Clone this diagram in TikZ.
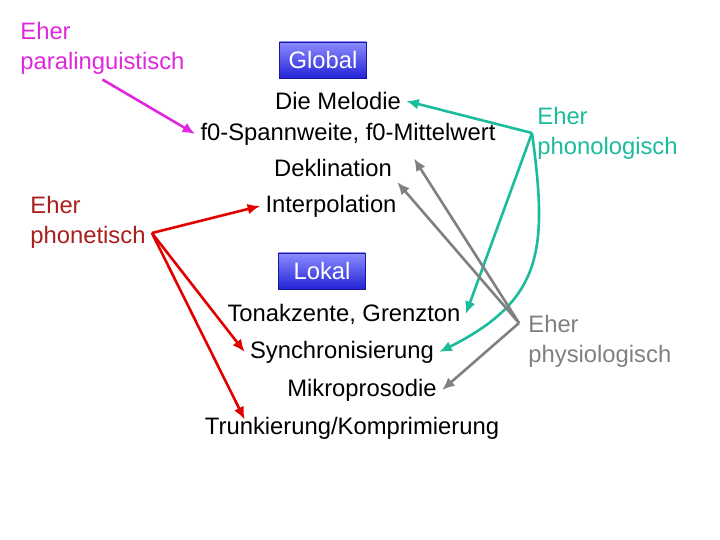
\documentclass[tikz,border=0pt]{standalone}
\usepackage{fontspec}
\setmainfont{Liberation Sans}
\usetikzlibrary{arrows.meta,positioning,calc}

\definecolor{paracol}{RGB}{222,40,222}
\definecolor{phoncol}{RGB}{170,30,30}
\definecolor{redarr}{RGB}{225,0,0}
\definecolor{tealcol}{RGB}{26,188,156}
\definecolor{graycol}{RGB}{128,128,128}
\definecolor{boxtop}{RGB}{140,140,255}
\definecolor{boxbot}{RGB}{35,35,215}

\begin{document}
\begin{tikzpicture}[
  x=0.5pt, y=-0.5pt,
  txt/.style={inner sep=2.5pt, font=\fontsize{11.9}{15}\selectfont},
  side/.style={txt, align=left, anchor=west},
  hdr/.style={draw=boxbot!70!black, line width=0.3pt, top color=boxtop, bottom color=boxbot,
    text=white, minimum width=43.5pt, minimum height=18pt, inner sep=0pt,
    font=\fontsize{11.9}{12}\selectfont},
  arr/.style={-{Latex[length=2.2mm, width=1.9mm]}, line width=1.3pt},
  paraarr/.style={arr, paracol},
  redline/.style={arr, redarr},
  tealarr/.style={arr, tealcol},
  grayarr/.style={arr, graycol}
]
\useasboundingbox (0,0) rectangle (720,540);

% Global part
\node[hdr] (global) at (323,60) {Global};
\node[txt] (melodie) at (338,101) {Die Melodie};
\node[txt] (spann) at (348,134) {f0-Spannweite, f0-Mittelwert};
\node[txt] (dekl) at (333,168) {Deklination};
\node[txt] (interp) at (331,206) {Interpolation};

% Local part
\node[hdr] (lokal) at (322,271) {Lokal};
\node[txt] (tonak) at (344,314) {Tonakzente, Grenzton};
\node[txt] (synch) at (342,352) {Synchronisierung};
\node[txt] (mikro) at (362,390) {Mikroprosodie};
\node[txt] (trunk) at (352,428) {Trunkierung/Komprimierung};

% Side labels
\node[side, text=paracol] (paraling) at (15,48) {Eher\\paralinguistisch};
\node[side, text=phoncol] (phonet) at (25,222) {Eher\\phonetisch};
\node[side, text=tealcol] (phonol) at (532,133) {Eher\\phonologisch};
\node[side, text=graycol] (physio) at (523,341) {Eher\\physiologisch};

\coordinate (fork) at ($(phonet.east)+(1,11)$);
\coordinate (physv) at ($(physio.west)+(-4,-18)$);

% Connectors
\draw[paraarr] (paraling.south) -- (spann.west);

\draw[redline] (fork) -- (interp.west);
\draw[redline] (fork) -- (synch.west);
\draw[redline] (fork) -- ($(synch.west |- trunk.north)+(0,8)$);

\draw[tealarr] (phonol.west) -- (melodie.east);
\draw[tealarr] (phonol.west) -- (tonak.east);
\draw[tealarr] (phonol.west) .. controls (548,250) and (543,300) .. (synch.east);

\draw[grayarr] (physv) -- ($(spann.south)+(66,8)$);
\draw[grayarr] (physv) -- (dekl.south east);
\draw[grayarr] (physv) -- (mikro.east);

\end{tikzpicture}
\end{document}
